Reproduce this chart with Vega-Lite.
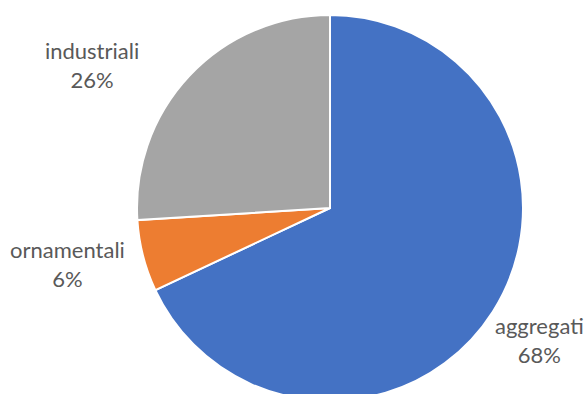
{
  "$schema": "https://vega.github.io/schema/vega-lite/v6.json",
  "width": 386,
  "height": 386,
  "autosize": "none",
  "padding": {"left": 137, "top": 15, "right": 65, "bottom": 0},
  "background": "white",
  "view": {"stroke": null},
  "data": {
    "values": [
      {"categoria": "aggregati", "percentuale": 68, "ordine": 1},
      {"categoria": "ornamentali", "percentuale": 6, "ordine": 2},
      {"categoria": "industriali", "percentuale": 26, "ordine": 3}
    ]
  },
  "transform": [
    {"calculate": "datum.categoria + '\\n' + datum.percentuale + '%'", "as": "etichetta"}
  ],
  "encoding": {
    "theta": {"field": "percentuale", "type": "quantitative", "stack": true},
    "order": {"field": "ordine", "type": "quantitative", "sort": "ascending"}
  },
  "layer": [
    {
      "mark": {"type": "arc", "outerRadius": 193, "stroke": "white", "strokeWidth": 2},
      "encoding": {
        "color": {
          "field": "categoria",
          "type": "nominal",
          "scale": {"domain": ["aggregati", "ornamentali", "industriali"], "range": ["#4472C4", "#ED7D31", "#A5A5A5"]},
          "legend": null
        }
      }
    },
    {
      "mark": {"type": "text", "radius": 248, "dx": 0, "dy": -14, "font": "Lato", "fontSize": 22, "lineHeight": 29, "lineBreak": "\n", "color": "#595959", "align": "center", "baseline": "middle"},
      "encoding": {
        "text": {"condition": {"test": "datum.categoria === 'aggregati'", "field": "etichetta"}, "value": ""}
      }
    },
    {
      "mark": {"type": "text", "radius": 269, "dx": -2, "dy": -24, "font": "Lato", "fontSize": 22, "lineHeight": 29, "lineBreak": "\n", "color": "#595959", "align": "center", "baseline": "middle"},
      "encoding": {
        "text": {"condition": {"test": "datum.categoria === 'ornamentali'", "field": "etichetta"}, "value": ""}
      }
    },
    {
      "mark": {"type": "text", "radius": 277, "dx": -36, "dy": 34, "font": "Lato", "fontSize": 22, "lineHeight": 29, "lineBreak": "\n", "color": "#595959", "align": "center", "baseline": "middle"},
      "encoding": {
        "text": {"condition": {"test": "datum.categoria === 'industriali'", "field": "etichetta"}, "value": ""}
      }
    }
  ]
}
